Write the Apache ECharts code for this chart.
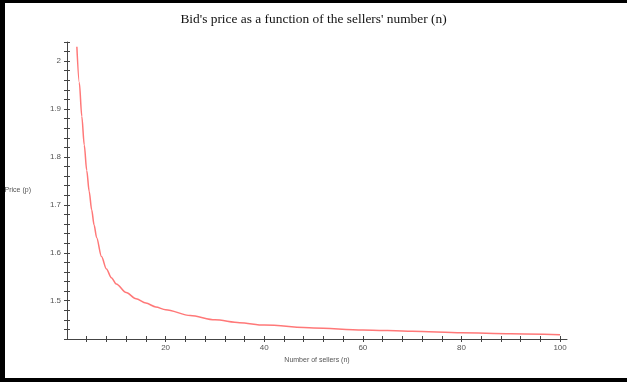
<!DOCTYPE html>
<html>
<head>
<meta charset="utf-8">
<script src="https://cdn.jsdelivr.net/npm/echarts@6/dist/echarts.min.js"></script>
<style>
  html, body { margin: 0; padding: 0; background: #fff; }
  #main { width: 627px; height: 385px; }
</style>
</head>
<body>
<div id="main"></div>
<script>
// number of sellers (n) and bid's price (p)
var sellers = [2, 2.5, 3, 3.5, 4, 4.5, 5, 5.5, 6, 7, 8, 9, 10, 12, 14, 16, 18, 20, 25, 30, 35, 40, 50, 60, 70, 80, 90, 100];
var prices  = [2.03, 1.955, 1.885, 1.825, 1.772, 1.728, 1.69, 1.658, 1.632, 1.592, 1.566, 1.548, 1.535, 1.517, 1.504, 1.495, 1.487, 1.481, 1.469, 1.460, 1.454, 1.449, 1.443, 1.439, 1.436, 1.433, 1.431, 1.429];

var xTickLabels = [20, 40, 60, 80, 100];
var yTickLabels = [1.5, 1.6, 1.7, 1.8, 1.9, 2];

var xMinorTicks = [];
for (var i = 4; i <= 100; i += 4) xMinorTicks.push(i);
var yMinorTicks = [];
for (var j = 0; j <= 31; j++) yMinorTicks.push(+(1.42 + j * 0.02).toFixed(2));

var points = sellers.map(function (n, k) { return [n, prices[k]]; });

var myChart = echarts.init(document.getElementById('main'));

var labelStyle = { color: '#555', fontSize: 8, fontFamily: 'Liberation Sans' };
var lineStyle = { color: '#444', width: 1 };

myChart.setOption({
    animation: false,
    title: {
        text: "Bid's price as a function of the sellers' number (n)",
        left: 'center',
        top: 8,
        textStyle: { fontFamily: 'Liberation Serif', fontSize: 13.4, fontWeight: 'normal', color: '#111' }
    },
    grid: { left: 67, right: 60, top: 42, bottom: 46, containLabel: false },
    graphic: [
        { type: 'rect', shape: { x: 0, y: 0, width: 627, height: 3 }, style: { fill: '#000' } },
        { type: 'rect', shape: { x: 0, y: 0, width: 5, height: 382 }, style: { fill: '#000' } },
        { type: 'rect', shape: { x: 0, y: 378, width: 627, height: 4 }, style: { fill: '#000' } }
    ],
    xAxis: [
        {
            type: 'value', min: 0, max: 101.4,
            name: 'Number of sellers (n)', nameLocation: 'middle', nameGap: 15,
            nameTextStyle: { color: '#555', fontSize: 7, fontFamily: 'Liberation Sans' },
            axisLine: { show: true, onZero: false, lineStyle: lineStyle },
            axisTick: { show: true, length: 3, customValues: xMinorTicks, lineStyle: lineStyle },
            axisLabel: Object.assign({ customValues: xTickLabels, margin: 5 }, labelStyle),
            splitLine: { show: false }
        },
        {
            type: 'value', min: 0, max: 101.4, position: 'bottom', offset: 0,
            axisLine: { show: false },
            axisTick: { show: true, inside: true, length: 3, customValues: xMinorTicks, lineStyle: lineStyle },
            axisLabel: { show: false },
            splitLine: { show: false }
        }
    ],
    yAxis: [
        {
            type: 'value', min: 1.42, max: 2.04,
            name: 'Price (p)', nameLocation: 'middle', nameRotate: 0, nameGap: 36,
            nameTextStyle: { color: '#555', fontSize: 7, fontFamily: 'Liberation Sans' },
            axisLine: { show: true, onZero: false, lineStyle: lineStyle },
            axisTick: { show: true, length: 3, customValues: yMinorTicks, lineStyle: lineStyle },
            axisLabel: Object.assign({ customValues: yTickLabels, margin: 6 }, labelStyle),
            splitLine: { show: false }
        },
        {
            type: 'value', min: 1.42, max: 2.04, position: 'left', offset: 0,
            axisLine: { show: false },
            axisTick: { show: true, inside: true, length: 3, customValues: yMinorTicks, lineStyle: lineStyle },
            axisLabel: { show: false },
            splitLine: { show: false }
        }
    ],
    series: [
        {
            name: 'price',
            type: 'line',
            data: points,
            showSymbol: false,
            smooth: 0.3,
            smoothMonotone: 'x',
            lineStyle: { color: '#ff7878', width: 1.5 }
        }
    ]
});
</script>
</body>
</html>
